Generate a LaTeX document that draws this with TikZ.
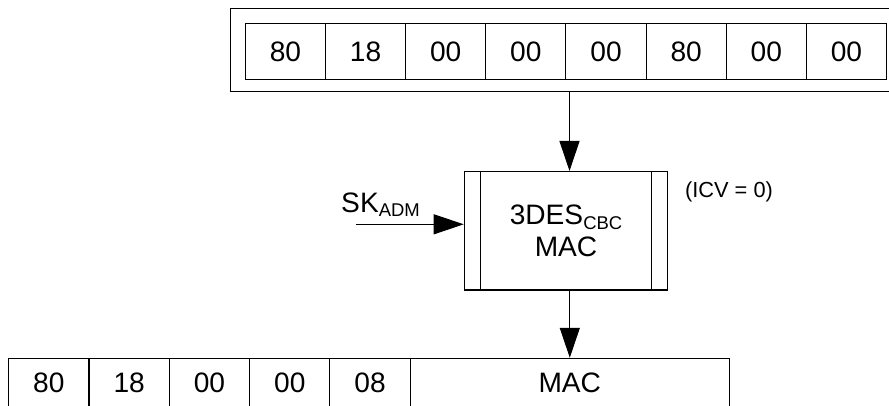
\documentclass[tikz,border=0pt]{standalone}
\usepackage{fontspec}
\setmainfont{Liberation Sans}
\usetikzlibrary{arrows.meta,positioning,calc}

\newcommand{\lowidx}[1]{\raisebox{-0.16em}{\fontsize{10.5}{12}\selectfont #1}}

\begin{document}
\begin{tikzpicture}
  [
  font=\fontsize{16}{17.8}\selectfont, line width=0.6pt, draw=black,
  >={Triangle[length=6mm,width=4mm]},
  framenode/.style={rectangle, inner sep=0pt, minimum width=13.43cm, minimum height=1.67cm, draw=black},
  bytenode/.style={rectangle, inner sep=0pt, minimum width=1.603cm, minimum height=1.12cm, draw=black},
  outnode/.style={rectangle, inner sep=0pt, minimum width=1.606cm, minimum height=1cm, draw=black},
  macnode/.style={rectangle, inner sep=0pt, minimum width=4.07cm, minimum height=2.37cm, draw=black, align=center},
  ]

  \useasboundingbox (0,0) rectangle (17.78,8.1);
  \clip (0,0) rectangle (17.78,8.1);

  \node[framenode] (msg) at (11.32,7.1) {};

  \foreach \v [count=\i] in {80,18,00,00,00,80,00,00} {
    \node[bytenode] (c\i) at (4.105+1.603*\i,7.066) {\v};
  }

  \node[macnode] (mac) at (11.32,3.485) {3DES\lowidx{CBC}\\MAC};
  \draw ([xshift=0.34cm]mac.north west) -- ([xshift=0.34cm]mac.south west);
  \draw ([xshift=-0.34cm]mac.north east) -- ([xshift=-0.34cm]mac.south east);

  \node (icv) at (14.58,4.26) {\fontsize{12.4}{14}\selectfont (ICV = 0)};

  \coordinate (skin) at (7.114,3.614);
  \node[anchor=base] (sk) at (7.61,3.854) {SK\lowidx{ADM}};
  \draw[->] (skin) -- (skin -| mac.west);

  \foreach \v [count=\i] in {80,18,00,00,08} {
    \node[outnode] (o\i) at (-0.629+1.606*\i,0.434) {\v};
  }
  \node[outnode, minimum width=6.38cm] (omac) at (11.396,0.434) {MAC};

  \draw[->] ([xshift=0.07cm]mac.north |- msg.south) -- ([xshift=0.07cm]mac.north);
  \draw[->] (mac.south -| omac.north) -- (omac.north);
\end{tikzpicture}
\end{document}
